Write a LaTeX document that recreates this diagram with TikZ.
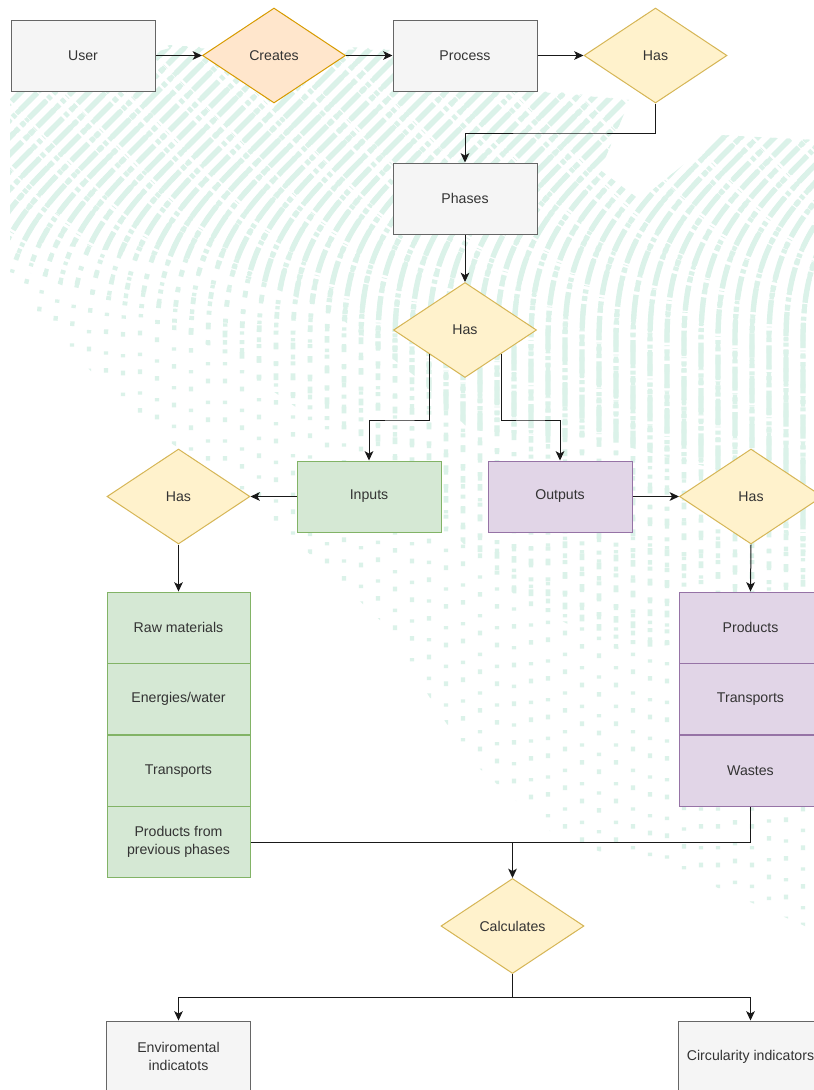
\documentclass[tikz,border=0pt]{standalone}
\usepackage{fontspec}
\setmainfont{Liberation Sans}
\usetikzlibrary{shapes.geometric,arrows.meta}

\definecolor{graybg}{HTML}{F5F5F5}
\definecolor{grayln}{HTML}{666666}
\definecolor{txt}{HTML}{333333}
\definecolor{orgbg}{HTML}{FFE6CC}
\definecolor{orgln}{HTML}{D79B00}
\definecolor{ylwbg}{HTML}{FFF2CC}
\definecolor{ylwln}{HTML}{D6B656}
\definecolor{grnbg}{HTML}{D5E8D4}
\definecolor{grnln}{HTML}{82B366}
\definecolor{plpbg}{HTML}{E1D5E7}
\definecolor{plpln}{HTML}{9673A6}
\definecolor{mint}{HTML}{DBF2E9}

\tikzset{
  base/.style={line width=0.75pt, text=txt, font=\fontsize{10.6}{13.5}\selectfont, align=center, inner sep=2pt},
  graybox/.style={base, rectangle, draw=grayln, fill=graybg, minimum width=108pt, minimum height=53.25pt},
  decide/.style={base, diamond, aspect=1.5, inner sep=0pt, minimum width=107.25pt, minimum height=71.25pt},
  createsd/.style={decide, draw=orgln, fill=orgbg},
  hasd/.style={decide, draw=ylwln, fill=ylwbg},
  inbox/.style={base, rectangle, draw=grnln, fill=grnbg, minimum width=108pt, minimum height=53.25pt},
  outbox/.style={base, rectangle, draw=plpln, fill=plpbg, minimum width=108pt, minimum height=53.25pt},
  incell/.style={base, rectangle, draw=grnln, fill=grnbg, minimum width=107.25pt, minimum height=53.6pt},
  outcell/.style={base, rectangle, draw=plpln, fill=plpbg, minimum width=107.25pt, minimum height=53.6pt},
  link/.style={line width=0.75pt, draw=black!90},
  arr/.style={link, -{Stealth[length=7pt, width=6.5pt, inset=1.8pt]}},
  stripe/.style={draw=mint, line width=4pt},
}

% one stripe of the background texture, offset #1
\newcommand{\texstripe}[1]{(#1,1000) -- (#1,340) .. controls (#1,250) and (#1+30,215) .. (#1+90,155) -- (#1+400,-155)}

\begin{document}
\begin{tikzpicture}[x=0.75pt, y=-0.75pt]
\useasboundingbox (0,0) rectangle (814,1090);
\clip (0,0) rectangle (814,1090);
\fill[white] (0,0) rectangle (814,1090);

% background texture: far fringe, scattered specks
\begin{scope}
  \clip (10,88) -- (170,45) -- (395,48) -- (540,90) -- (630,100) -- (600,170) -- (640,200)
        -- (720,135) -- (814,140) -- (814,930) -- (700,880) -- (560,840) -- (470,760)
        -- (380,620) -- (300,545) -- (230,480) -- (150,430) -- (60,340) -- (10,280) -- cycle;
  \foreach \k in {0,...,62} {
    \pgfmathsetmacro\d{-200+17*\k}
    \pgfmathsetmacro\ph{mod(mod(\k*\k,61)*3+\k*7,29)}
    \draw[stripe, line width=3.2pt, dash pattern=on 2.5pt off 13pt on 3.5pt off 10pt, dash phase=\ph pt] \texstripe{\d};
  }
\end{scope}
% background texture: middle band, broken blobs
\begin{scope}
  \clip (10,90) -- (170,46) -- (395,49) -- (540,91) -- (630,100) -- (600,170) -- (640,200)
        -- (720,135) -- (814,140) -- (814,760) -- (720,640) -- (620,650) -- (520,600)
        -- (440,520) -- (380,450) -- (300,410) -- (200,340) -- (100,300) -- (10,265) -- cycle;
  \foreach \k in {0,...,62} {
    \pgfmathsetmacro\d{-200+17*\k}
    \pgfmathsetmacro\ph{mod(mod(\k*\k,53)*5+\k*3,23)}
    \draw[stripe, line width=3.6pt, dash pattern=on 5pt off 6pt on 3pt off 9pt, dash phase=\ph pt] \texstripe{\d};
  }
\end{scope}
% background texture: dense core, long pinched stripes
\begin{scope}
  \clip (10,92) -- (170,48) -- (395,50) -- (540,92) -- (630,100) -- (600,170) -- (640,200)
        -- (720,135) -- (814,140) -- (814,560) -- (720,470) -- (600,440) -- (470,430)
        -- (420,380) -- (330,310) -- (200,260) -- (10,240) -- cycle;
  \foreach \k in {0,...,62} {
    \pgfmathsetmacro\d{-200+17*\k}
    \pgfmathsetmacro\ph{mod(\k*9,34)}
    \draw[stripe, dash pattern=on 18pt off 2.5pt on 3pt off 2.5pt on 3pt off 2.5pt on 0.5pt off 2pt, dash phase=\ph pt] \texstripe{\d};
  }
\end{scope}

% nodes
\node[graybox]  (user)    at (83,55.5)   {User};
\node[createsd] (creates) at (274,55.5)  {Creates};
\node[graybox]  (process) at (465,55.5)  {Process};
\node[hasd]     (hasA)    at (655.5,55.5){Has};
\node[graybox]  (phases)  at (465,198.5) {Phases};
\node[hasd]     (hasB)    at (465,330)   {Has};
\node[inbox]    (inputs)  at (369,496.5) {Inputs};
\node[outbox]   (outputs) at (560,496.5) {Outputs};
\node[hasd]     (hasC)    at (178.5,496.5) {Has};
\node[hasd]     (hasD)    at (751,496.5) {Has};

\node[incell] (raw)    at (178.5,627.75) {Raw materials};
\node[incell] (energy) at (178.5,699.25) {Energies/water};
\node[incell] (transA) at (178.5,770.75) {Transports};
\node[incell] (prev)   at (178.5,842.25) {Products from\\previous phases};

\node[outcell] (prod)   at (750.5,627.75) {Products};
\node[outcell] (transB) at (750.5,699.25) {Transports};
\node[outcell] (wastes) at (750.5,770.75) {Wastes};

\node[hasd]    (calc) at (512.5,926) {Calculates};
\node[graybox] (env)  at (178.5,1056.5) {Enviromental\\indicatots};
\node[graybox] (circ) at (750.5,1056.5) {Circularity indicators};

% junction points
\coordinate (jA) at (560,133);
\coordinate (jB) at (400,420);
\coordinate (jC) at (530,420);
\coordinate (jM) at (512.5,842.25);
\coordinate (jD) at (512.5,997);

% connectors
\draw[arr] (user.east) -- (creates.west);
\draw[arr] (creates.east) -- (process.west);
\draw[arr] (process.east) -- (hasA.west);
\draw[arr] (hasA.south) |- (jA) -| (phases.north);
\draw[arr] (phases.south) -- (hasB.north);
\draw[arr] (hasB.south west) |- (jB) -| (inputs.north);
\draw[arr] (hasB.south east) |- (jC) -| (outputs.north);
\draw[arr] (inputs.west) -- (hasC.east);
\draw[arr] (outputs.east) -- (hasD.west);
\draw[arr] (hasC.south) -- (raw.north);
\draw[arr] (hasD.south) -- (prod.north);
\draw[link] (prev.east) -- (jM);
\draw[link] (wastes.south) |- (jM);
\draw[arr] (jM) -- (calc.north);
\draw[arr] (calc.south) -- (jD) -| (env.north);
\draw[arr] (jD) -| (circ.north);
\end{tikzpicture}
\end{document}
